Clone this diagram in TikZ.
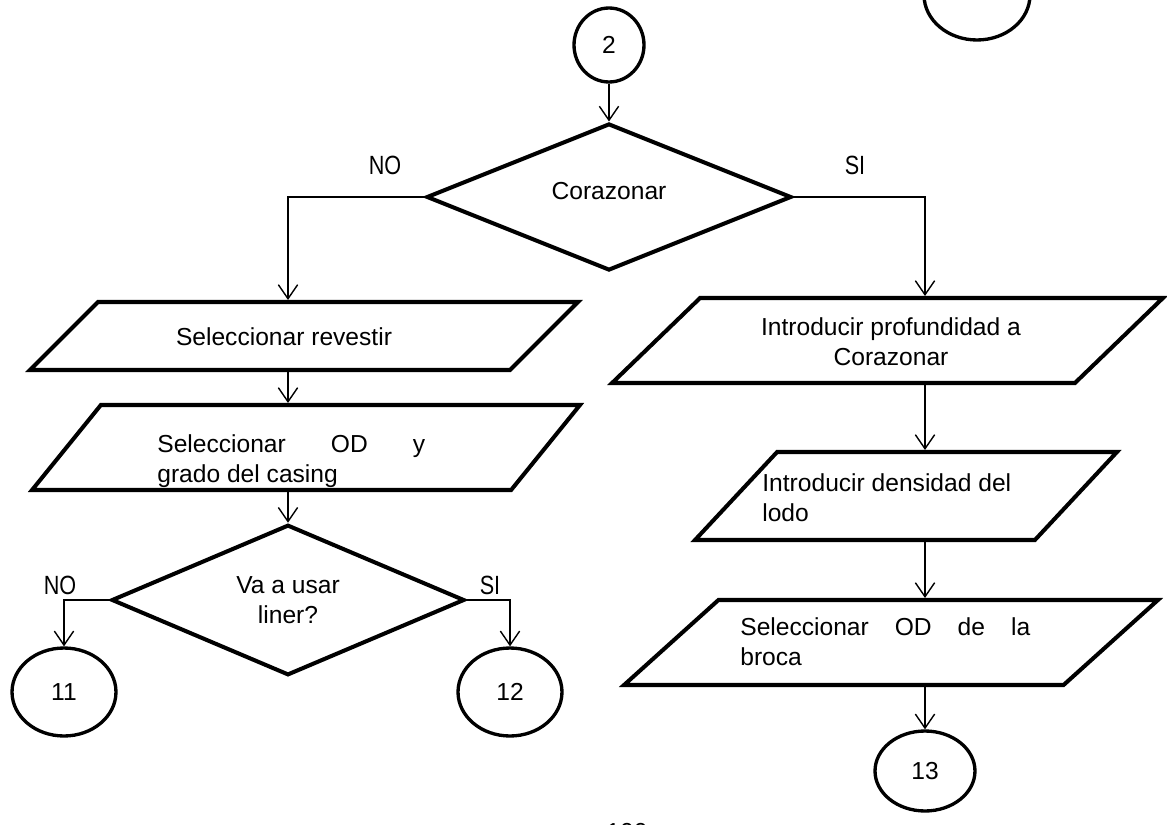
\documentclass[tikz,border=0pt]{standalone}
\usepackage{fontspec}
\setmainfont{Liberation Sans}
\newfontfamily\angosta{Liberation Sans}[FakeStretch=0.82]
\usetikzlibrary{shapes.geometric,arrows.meta,positioning,calc}

\begin{document}
\begin{tikzpicture}[x=0.02cm, y=-0.02cm, font=\fontsize{14}{17}\selectfont,
    conector/.style={draw, ellipse, line width=1.9pt, inner sep=0pt},
    decision/.style={draw, diamond, line width=2.3pt, inner sep=0pt, align=center},
    datos/.style={draw, trapezium, trapezium stretches body, line width=2.3pt, inner sep=0pt,
        text depth=0pt, trapezium left angle=#1, trapezium right angle=180-#1},
    texto/.style={inner sep=0pt, align=left},
    flecha/.style={-{Straight Barb[length=8pt, width=11pt]}, line width=0.8pt},
    rama/.style={font=\angosta\fontsize{15}{18}\selectfont}]
    \useasboundingbox (0,0) rectangle (1167,825);
    \clip (0,0) rectangle (1167,825);
    \coordinate (ejeizq) at (288,0);
    \coordinate (ejeder) at (925,0);

    % conectores de pagina
    \node[conector, minimum width=1.4cm, minimum height=1.48cm] (c2) at (609,45) {2};
    \node[conector, minimum width=2.12cm, minimum height=1.8cm] (cx) at (977,-5) {};

    % Corazonar?
    \node[decision, minimum width=7.3cm, minimum height=2.94cm, text height=10pt, text depth=7pt]
        (d1) at (609,197) {Corazonar};
    \node[rama] (no1) at (385,165) {NO};
    \node[rama] (si1) at (855,165) {SI};

    % rama NO
    \node[datos=45, minimum width=10.96cm, text height=1.36cm] (p1) at (304,336) {};
    \node[texto] (t1) at (284,337) {Seleccionar revestir};
    \node[datos=51, minimum width=10.96cm, text height=1.7cm] (p2) at (306,447.5) {};
    \node[texto, anchor=west] (t2) at (157,461)
        {\makebox[5.36cm][s]{Seleccionar OD y}\\grado del casing};
    \node[decision, minimum width=7.06cm, minimum height=3cm] (d2) at (288,600) {Va a usar\\liner?};
    \node[rama] (no2) at (60,585) {NO};
    \node[rama] (si2) at (490,585) {SI};
    \node[conector, minimum width=2.08cm, minimum height=1.76cm] (c11) at (64,692) {11};
    \node[conector, minimum width=2.08cm, minimum height=1.76cm] (c12) at (510,692) {12};

    % rama SI
    \node[datos=44, minimum width=11.02cm, text height=1.7cm] (p3) at (887.5,340.5) {};
    \node[texto, align=center] (t3) at (891,342) {Introducir profundidad a\\Corazonar};
    \node[datos=47, minimum width=8.44cm, text height=1.76cm] (p4) at (906,496) {};
    \node[texto, anchor=west] (t4) at (762,498) {Introducir densidad del\\lodo};
    \node[datos=42, minimum width=10.68cm, text height=1.7cm] (p5) at (891,642.5) {};
    \node[texto, anchor=west] (t5) at (740,642)
        {\makebox[5.8cm][s]{Seleccionar OD de la}\\broca};
    \node[conector, minimum width=2cm, minimum height=1.6cm] (c13) at (925,771) {13};

    % numero de pagina
    \node (pag) at (627,832) {100};

    % flechas
    \draw[flecha] (c2) -- (d1);
    \draw[flecha] (d1.west) -| (p1.north -| ejeizq);
    \draw[flecha] (d1.east) -| (p3.north -| ejeder);
    \draw[flecha] (p1.south -| ejeizq) -- (p2.north -| ejeizq);
    \draw[flecha] (p2.south -| ejeizq) -- (d2.north);
    \draw[flecha] (d2.west) -| (c11.north);
    \draw[flecha] (d2.east) -| (c12.north);
    \foreach \a/\b in {p3/p4, p4/p5}
        \draw[flecha] (\a.south -| ejeder) -- (\b.north -| ejeder);
    \draw[flecha] (p5.south -| ejeder) -- (c13.north);
\end{tikzpicture}
\end{document}
